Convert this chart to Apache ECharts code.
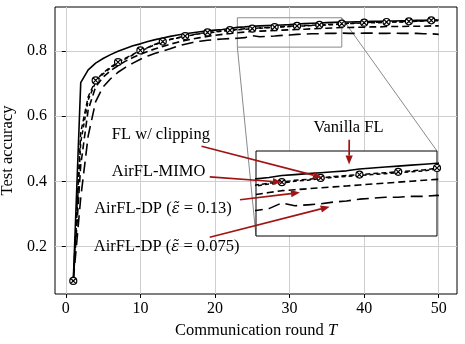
<!DOCTYPE html>
<html>
<head>
<meta charset="utf-8">
<script src="https://cdn.jsdelivr.net/npm/echarts@6/dist/echarts.min.js"></script>
<style>
  html, body { margin: 0; padding: 0; background: #fff; }
  #chart { width: 465px; height: 344px; }
</style>
</head>
<body>
<div id="chart"></div>
<script>
// communication rounds
const rounds = [1, 2, 3, 4, 5, 6, 7, 8, 9, 10, 11, 12, 13, 14, 15, 16, 17, 18, 19, 20,
  21, 22, 23, 24, 25, 26, 27, 28, 29, 30, 31, 32, 33, 34, 35, 36, 37, 38, 39, 40,
  41, 42, 43, 44, 45, 46, 47, 48, 49, 50];

// test accuracy
const vanillaFL = [0.095, 0.703, 0.742, 0.763, 0.777, 0.789, 0.799, 0.808, 0.816, 0.822,
  0.829, 0.835, 0.840, 0.845, 0.849, 0.853, 0.856, 0.859, 0.862, 0.864,
  0.866, 0.869, 0.8725, 0.874, 0.876, 0.877, 0.878, 0.879, 0.880, 0.881,
  0.883, 0.884, 0.885, 0.886, 0.887, 0.888, 0.889, 0.889, 0.890, 0.890,
  0.891, 0.891, 0.892, 0.892, 0.893, 0.893, 0.894, 0.894, 0.895, 0.895];
const flClipping = [0.095, 0.52, 0.65, 0.705, 0.730, 0.748, 0.763, 0.776, 0.788, 0.799,
  0.810, 0.820, 0.828, 0.835, 0.840, 0.845, 0.849, 0.853, 0.856, 0.858,
  0.861, 0.863, 0.865, 0.867, 0.868, 0.870, 0.871, 0.873, 0.874, 0.875,
  0.876, 0.877, 0.878, 0.879, 0.880, 0.881, 0.883, 0.884, 0.885, 0.886,
  0.887, 0.887, 0.888, 0.889, 0.889, 0.890, 0.891, 0.892, 0.893, 0.893];
const airflMimo = [0.095, 0.55, 0.66, 0.710, 0.733, 0.751, 0.766, 0.778, 0.790, 0.802,
  0.811, 0.821, 0.829, 0.836, 0.841, 0.846, 0.850, 0.854, 0.857, 0.859,
  0.862, 0.864, 0.866, 0.868, 0.869, 0.871, 0.872, 0.8735, 0.875, 0.876,
  0.877, 0.878, 0.879, 0.880, 0.881, 0.882, 0.884, 0.885, 0.886, 0.887,
  0.888, 0.888, 0.889, 0.890, 0.890, 0.891, 0.892, 0.893, 0.894, 0.894];
const airflDp013 = [0.095, 0.45, 0.62, 0.690, 0.720, 0.740, 0.755, 0.769, 0.780, 0.790,
  0.799, 0.807, 0.814, 0.821, 0.827, 0.832, 0.837, 0.841, 0.845, 0.848,
  0.851, 0.854, 0.856, 0.858, 0.860, 0.861, 0.862, 0.863, 0.864, 0.865,
  0.866, 0.867, 0.868, 0.869, 0.870, 0.871, 0.872, 0.872, 0.873, 0.873,
  0.874, 0.874, 0.875, 0.875, 0.875, 0.876, 0.876, 0.876, 0.877, 0.877];
const airflDp0075 = [0.095, 0.35, 0.54, 0.645, 0.690, 0.715, 0.735, 0.750, 0.763, 0.775,
  0.785, 0.793, 0.800, 0.807, 0.815, 0.821, 0.826, 0.830, 0.833, 0.835,
  0.837, 0.838, 0.839, 0.841, 0.847, 0.844, 0.845, 0.846, 0.848, 0.849,
  0.851, 0.852, 0.853, 0.853, 0.854, 0.854, 0.855, 0.854, 0.854, 0.855,
  0.855, 0.854, 0.854, 0.855, 0.854, 0.854, 0.854, 0.853, 0.853, 0.851];

const xTicks = [0, 10, 20, 30, 40, 50];
const yTicks = [0.2, 0.4, 0.6, 0.8];

// zoomed window shown in the inset
const insetX = [23, 37];
const insetY = [0.812, 0.902];

// annotations: text position (main axes), arrow start (main axes), arrow tip (inset axes)
const notes = [
  { text: 'Vanilla FL', at: [37.9, 0.565], from: [38.0, 0.528], to: [30.2, 0.8876] },
  { text: 'FL w/ clipping', at: [12.75, 0.544], from: [18.2, 0.508], to: [28.1, 0.874] },
  { text: 'AirFL-MIMO', at: [12.44, 0.429], from: [19.3, 0.414], to: [25.0, 0.869] },
  { text: '{a|AirFL-DP (}{e|ε̃}{a| = 0.13)}', at: [13.02, 0.316], from: [23.35, 0.344], to: [26.4, 0.858] },
  { text: '{a|AirFL-DP (}{e|ε̃}{a| = 0.075)}', at: [13.52, 0.200], from: [19.3, 0.229], to: [28.7, 0.843] }
];

const FONT = '"Liberation Serif", "DejaVu Serif", serif';
const RED = '#a01414';
const markerPath = 'path://M10 0A10 10 0 1 1 10 20A10 10 0 1 1 10 0ZM3 3L17 17M17 3L3 17';

const chart = echarts.init(document.getElementById('chart'));

function pairs(arr) {
  return rounds.map((t, i) => [t, arr[i]]);
}

function lines(gridIdx) {
  const base = {
    type: 'line',
    xAxisIndex: gridIdx,
    yAxisIndex: gridIdx,
    showSymbol: false,
    silent: true,
    animation: false,
    clip: true
  };
  const list = [
    Object.assign({}, base, {
      name: 'AirFL-DP 0.075', data: pairs(airflDp0075),
      lineStyle: { color: '#000', width: 1.6, type: [12, 6] }
    }),
    Object.assign({}, base, {
      name: 'AirFL-DP 0.13', data: pairs(airflDp013),
      lineStyle: { color: '#000', width: 1.6, type: [7, 4] }
    }),
    Object.assign({}, base, {
      name: 'FL w/ clipping', data: pairs(flClipping),
      lineStyle: { color: '#000', width: 1.5, type: [4, 3] }
    }),
    Object.assign({}, base, {
      name: 'AirFL-MIMO', data: pairs(airflMimo),
      showSymbol: true, showAllSymbol: true,
      symbol: (v, p) => (p.dataIndex % 3 === 0 ? markerPath : 'none'),
      symbolSize: 7,
      itemStyle: { color: '#fff', borderColor: '#000', borderWidth: 1.2 },
      lineStyle: { color: '#000', width: 1.5, type: [5, 3] }
    }),
    Object.assign({}, base, {
      name: 'Vanilla FL', data: pairs(vanillaFL),
      lineStyle: { color: '#000', width: 1.6, type: 'solid' }
    })
  ];
  if (gridIdx === 0) {
    list[4].markArea = {
      silent: true,
      label: { show: false },
      itemStyle: { color: 'rgba(0,0,0,0)', borderColor: '#8a8a8a', borderWidth: 1 },
      data: [[{ coord: [insetX[0], insetY[0]] }, { coord: [insetX[1], insetY[1]] }]]
    };
  }
  return list;
}

const tickLabel = { color: '#000', fontFamily: FONT, fontSize: 16 };

chart.setOption({
  animation: false,
  backgroundColor: '#fff',
  grid: [
    { left: 55, right: 8, top: 7, bottom: 50, show: true, borderColor: '#000', borderWidth: 1,
      backgroundColor: '#fff', outerBoundsMode: 'none', containLabel: false },
    { left: 256, top: 151, width: 181, height: 85, show: true, z: 1, borderColor: '#000', borderWidth: 1,
      backgroundColor: '#fff', outerBoundsMode: 'none', containLabel: false }
  ],
  xAxis: [
    {
      type: 'value', gridIndex: 0, min: -1.45, max: 52.45,
      name: '{a|Communication round }{i|T}', nameLocation: 'middle', nameGap: 25,
      nameTextStyle: {
        rich: {
          a: { fontFamily: FONT, fontSize: 16.5, color: '#000' },
          i: { fontFamily: FONT, fontSize: 16.5, color: '#000', fontStyle: 'italic' }
        }
      },
      axisLine: { show: false },
      axisTick: { show: true, inside: false, length: 4, customValues: xTicks, lineStyle: { color: '#000' } },
      axisLabel: Object.assign({ margin: 7, customValues: xTicks }, tickLabel),
      splitLine: { show: true, lineStyle: { color: '#cfcfcf', width: 1 } }
    },
    {
      type: 'value', gridIndex: 1, min: insetX[0], max: insetX[1],
      axisLine: { show: false }, axisTick: { show: false }, axisLabel: { show: false },
      splitLine: { show: false }
    }
  ],
  yAxis: [
    {
      type: 'value', gridIndex: 0, min: 0.055, max: 0.935,
      name: 'Test accuracy', nameLocation: 'middle', nameGap: 30, nameRotate: 90,
      nameTextStyle: { fontFamily: FONT, fontSize: 16.5, color: '#000' },
      axisLine: { show: false },
      axisTick: { show: true, inside: false, length: 4, customValues: yTicks, lineStyle: { color: '#000' } },
      axisLabel: Object.assign({ margin: 8, customValues: yTicks, formatter: v => v.toFixed(1) }, tickLabel),
      splitLine: { show: true, lineStyle: { color: '#cfcfcf', width: 1 } }
    },
    {
      type: 'value', gridIndex: 1, min: insetY[0], max: insetY[1],
      axisLine: { show: false }, axisTick: { show: false }, axisLabel: { show: false },
      splitLine: { show: false }
    }
  ],
  series: lines(0).concat(lines(1))
});

// connectors, labels and arrows placed through the axes' own conversion
function px(grid, p) {
  return chart.convertToPixel({ xAxisIndex: grid, yAxisIndex: grid }, p);
}

function arrow(p0, p1) {
  const dx = p1[0] - p0[0], dy = p1[1] - p0[1];
  const len = Math.hypot(dx, dy);
  const ux = dx / len, uy = dy / len;
  const hl = 9, hw = 3.6;
  const b = [p1[0] - ux * hl, p1[1] - uy * hl];
  return [
    { type: 'line', z: 20, shape: { x1: p0[0], y1: p0[1], x2: b[0], y2: b[1] },
      style: { stroke: RED, lineWidth: 1.7 } },
    { type: 'polygon', z: 20,
      shape: { points: [p1, [b[0] - uy * hw, b[1] + ux * hw], [b[0] + uy * hw, b[1] - ux * hw]] },
      style: { fill: RED } }
  ];
}

const elements = [];
[[insetX[1], insetY[1]], [insetX[0], insetY[0]]].forEach(c => {
  const a = px(0, c), b = px(1, c);
  elements.push({ type: 'line', z: 0, shape: { x1: a[0], y1: a[1], x2: b[0], y2: b[1] },
    style: { stroke: '#8a8a8a', lineWidth: 1 } });
});
notes.forEach(n => {
  const c = px(0, n.at);
  elements.push({
    type: 'text', z: 20, x: c[0], y: c[1],
    style: {
      text: n.text, align: 'center', verticalAlign: 'middle',
      fontFamily: FONT, fontSize: 16.5, fill: '#000',
      rich: {
        a: { fontFamily: FONT, fontSize: 16.5, fill: '#000' },
        e: { fontFamily: '"DejaVu Serif", serif', fontSize: 15, fill: '#000', fontStyle: 'italic' }
      }
    }
  });
  elements.push.apply(elements, arrow(px(0, n.from), px(1, n.to)));
});
chart.setOption({ graphic: { elements: elements } });
</script>
</body>
</html>
